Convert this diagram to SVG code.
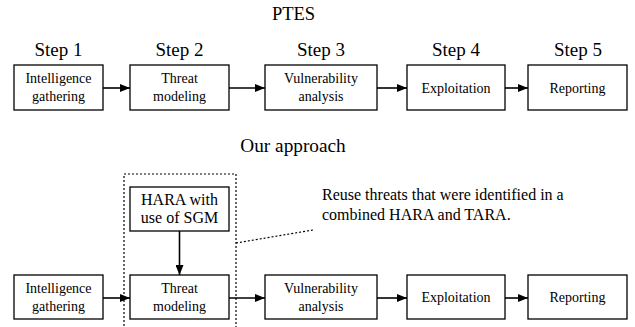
<svg xmlns="http://www.w3.org/2000/svg" width="635" height="327" viewBox="0 0 635 327" font-family="'Liberation Serif', 'Times New Roman', serif">
<defs>
<marker id="ah" markerWidth="10" markerHeight="8" refX="10" refY="4" orient="auto" markerUnits="userSpaceOnUse">
<path d="M0,0 L10,4 L0,8 Z" fill="#000"/>
</marker>
<style>
text{font-family:'Liberation Serif','Times New Roman',serif;fill:#000;text-anchor:middle}
.bt{font-size:14px}
.hb{font-size:16px}
.step{font-size:19px}
.title{font-size:18.5px}
.ann{font-size:16px;text-anchor:start}
.box{fill:#fff;stroke:#000;stroke-width:1.3}
.con{stroke:#000;stroke-width:1.6;fill:none;marker-end:url(#ah)}
.dot{stroke:#000;stroke-width:1.2;fill:none;stroke-dasharray:2,2}
</style>
</defs>
<rect width="635" height="327" fill="#fff"/>
<text class="title" x="293.5" y="20">PTES</text>
<text class="step" x="58.5" y="55.5">Step 1</text>
<text class="step" x="179.5" y="55.5">Step 2</text>
<text class="step" x="321" y="55.5">Step 3</text>
<text class="step" x="456" y="55.5">Step 4</text>
<text class="step" x="578" y="55.5">Step 5</text>
<text class="title" x="293" y="151.5" style="font-size:19.3px">Our approach</text>
<g id="dashed-frame"><rect class="dot" x="124" y="174" width="112" height="160"/></g>
<g id="connectors">
<line class="con" x1="103" y1="88" x2="130" y2="88"/>
<line class="con" x1="229" y1="88" x2="265" y2="88"/>
<line class="con" x1="377" y1="88" x2="407" y2="88"/>
<line class="con" x1="505" y1="88" x2="528" y2="88"/>
<line class="con" x1="103" y1="298" x2="130" y2="298"/>
<line class="con" x1="229" y1="298" x2="265" y2="298"/>
<line class="con" x1="377" y1="298" x2="407" y2="298"/>
<line class="con" x1="505" y1="298" x2="528" y2="298"/>
<line class="con" x1="179.5" y1="231" x2="179.5" y2="275"/>
<line class="dot" x1="236" y1="243" x2="313" y2="230"/>
</g>
<g id="p1"><rect class="box" x="14" y="65" width="89" height="45"/><text class="bt" x="58.5" y="83">Intelligence</text><text class="bt" x="58.5" y="101">gathering</text></g>
<g id="p2"><rect class="box" x="130" y="65" width="99" height="45"/><text class="bt" x="179.5" y="83">Threat</text><text class="bt" x="179.5" y="101">modeling</text></g>
<g id="p3"><rect class="box" x="265" y="65" width="112" height="45"/><text class="bt" x="321" y="83">Vulnerability</text><text class="bt" x="321" y="101">analysis</text></g>
<g id="p4"><rect class="box" x="407" y="65" width="98" height="45"/><text class="bt" x="456" y="93">Exploitation</text></g>
<g id="p5"><rect class="box" x="528" y="65" width="99" height="45"/><text class="bt" x="577.5" y="93">Reporting</text></g>
<g id="hara"><rect class="box" x="130" y="187" width="99" height="44"/><text class="hb" x="179.5" y="205">HARA with</text><text class="hb" x="179.5" y="223">use of SGM</text></g>
<g id="a1"><rect class="box" x="14" y="275" width="89" height="44"/><text class="bt" x="58.5" y="293">Intelligence</text><text class="bt" x="58.5" y="311">gathering</text></g>
<g id="a2"><rect class="box" x="130" y="275" width="99" height="44"/><text class="bt" x="179.5" y="293">Threat</text><text class="bt" x="179.5" y="311">modeling</text></g>
<g id="a3"><rect class="box" x="265" y="275" width="112" height="44"/><text class="bt" x="321" y="293">Vulnerability</text><text class="bt" x="321" y="311">analysis</text></g>
<g id="a4"><rect class="box" x="407" y="275" width="98" height="44"/><text class="bt" x="456" y="302">Exploitation</text></g>
<g id="a5"><rect class="box" x="528" y="275" width="99" height="44"/><text class="bt" x="577.5" y="302">Reporting</text></g>
<g id="note"><text class="ann" x="322" y="200">Reuse threats that were identified in a</text><text class="ann" x="322" y="220">combined HARA and TARA.</text></g>
</svg>
